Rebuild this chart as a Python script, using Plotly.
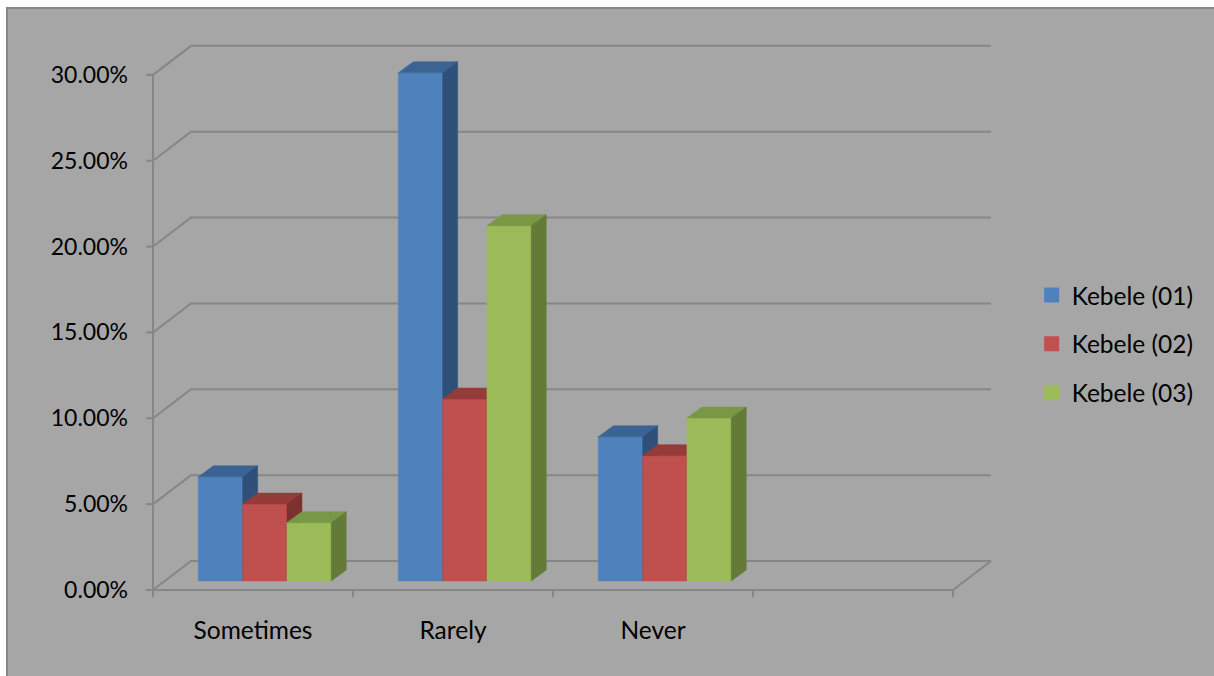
import plotly.graph_objects as go

# Survey responses by kebele (share of respondents)
categories = ["Sometimes", "Rarely", "Never"]
series_names = ["Kebele (01)", "Kebele (02)", "Kebele (03)"]
kebele_01 = [0.0607, 0.2960, 0.0840]
kebele_02 = [0.0448, 0.1060, 0.0730]
kebele_03 = [0.0340, 0.2069, 0.0949]
y_ticks = [0.0, 0.05, 0.10, 0.15, 0.20, 0.25, 0.30]

series_values = [kebele_01, kebele_02, kebele_03]
face_colors = [
    ("#4f81bd", "#3b6495", "#2f5179"),
    ("#c0504d", "#943c3a", "#7d302e"),
    ("#9bbb59", "#789845", "#647b37"),
]

# oblique projection of the floor/wall depth (in axis units)
DEPTH_X = 0.19       # category units
DEPTH_Y = 0.01689    # value units
BAR_SHIFT_X = 0.059  # bars sit partway into the depth
BAR_SHIFT_Y = 0.00524
BAR_DX = 0.075       # bar thickness (depth) projection
BAR_DY = 0.0064
BAR_W = 0.2215
N_SLOTS = 4          # one empty slot on the right
GRID = "#868686"
FONT = "Lato, 'Open Sans', sans-serif"

fig = go.Figure()

# back wall / left wall gridlines
gx, gy = [], []
for v in y_ticks:
    gx += [-0.5, -0.5 + DEPTH_X, N_SLOTS - 0.5 + DEPTH_X, None]
    gy += [v, v + DEPTH_Y, v + DEPTH_Y, None]
# floor front edge and right diagonal
gx += [-0.5, N_SLOTS - 0.5, N_SLOTS - 0.5 + DEPTH_X, None]
gy += [0, 0, DEPTH_Y, None]
# value axis line and its tick marks
gx += [-0.5, -0.5, None]
gy += [0, y_ticks[-1], None]
for v in y_ticks:
    gx += [-0.535, -0.5, None]
    gy += [v, v, None]
# category boundary ticks
for k in range(N_SLOTS + 1):
    gx += [k - 0.5, k - 0.5, None]
    gy += [0, -0.0041, None]
fig.add_trace(go.Scatter(x=gx, y=gy, mode="lines", line=dict(color=GRID, width=2),
                         hoverinfo="skip", showlegend=False))

# 3-D looking bars: front, top and side faces per series
for i, (name, vals, (c_front, c_top, c_side)) in enumerate(zip(series_names, series_values, face_colors)):
    fx, fy, tx, ty, sx, sy = [], [], [], [], [], []
    for k, v in enumerate(vals):
        x0 = k + (i - 1.5) * BAR_W + BAR_SHIFT_X
        x1 = x0 + BAR_W
        b = BAR_SHIFT_Y
        h = v + BAR_SHIFT_Y
        fx += [x0, x1, x1, x0, x0, None]
        fy += [b, b, h, h, b, None]
        tx += [x0, x1, x1 + BAR_DX, x0 + BAR_DX, x0, None]
        ty += [h, h, h + BAR_DY, h + BAR_DY, h, None]
        sx += [x1, x1 + BAR_DX, x1 + BAR_DX, x1, x1, None]
        sy += [b, b + BAR_DY, h + BAR_DY, h, b, None]
    for xs, ys, col in ((fx, fy, c_front), (tx, ty, c_top), (sx, sy, c_side)):
        fig.add_trace(go.Scatter(x=xs, y=ys, mode="lines", fill="toself", fillcolor=col,
                                 line=dict(color=col, width=0.5), hoverinfo="skip",
                                 showlegend=False))
    fig.add_trace(go.Scatter(x=[None], y=[None], mode="markers", name=name,
                             legendgroup=name,
                             marker=dict(symbol="square", size=15, color=c_front)))

fig.update_layout(
    width=1214, height=676,
    margin=dict(l=145, r=214, t=40, b=76),
    paper_bgcolor="white",
    plot_bgcolor="rgba(0,0,0,0)",
    font=dict(family=FONT, size=23, color="#000000"),
    showlegend=True,
    legend=dict(x=1.037, y=0.457, xanchor="left", yanchor="middle",
                bgcolor="rgba(0,0,0,0)", tracegroupgap=14,
                font=dict(family=FONT, size=24.5, color="#000000")),
    xaxis=dict(range=[-0.54, 3.735], showgrid=False, zeroline=False, showline=False,
               tickvals=list(range(N_SLOTS)), ticktext=categories + [""],
               tickfont=dict(size=24.5),
               ticks="", ticklabelstandoff=13, fixedrange=True),
    yaxis=dict(range=[-0.00582, 0.3203], showgrid=False, zeroline=False, showline=False,
               tickvals=y_ticks, tickformat=".2%", ticks="", ticklabelstandoff=16,
               fixedrange=True),
    shapes=[dict(type="rect", xref="paper", yref="paper", layer="below",
                 x0=-0.1614, x1=1.35, y0=-0.3, y1=1.0571,
                 fillcolor="#a6a6a6", line=dict(color="#878787", width=2))],
)

fig.write_html("out.html")
